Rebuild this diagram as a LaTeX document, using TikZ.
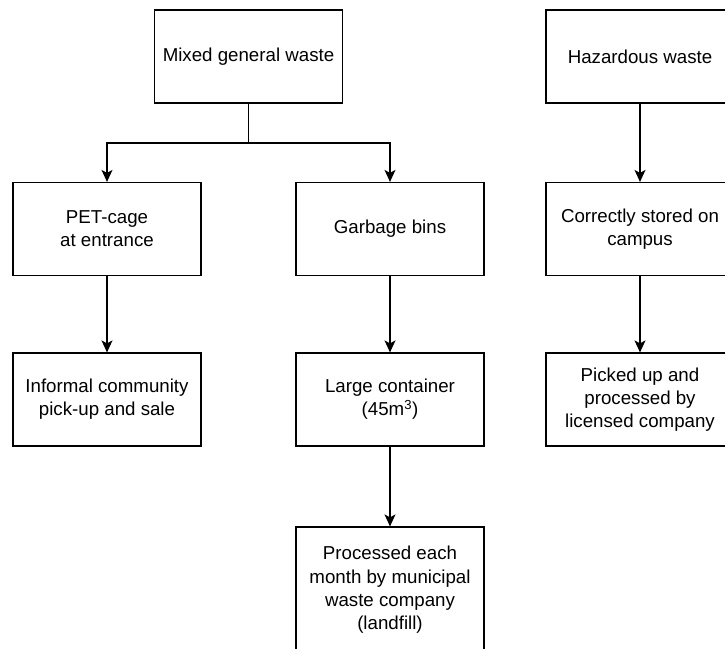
\documentclass[tikz,border=0pt]{standalone}
\usepackage{fontspec}
\setmainfont{Liberation Sans}
\usetikzlibrary{arrows.meta}
\tikzset{
  x=1pt,
  y=-1pt,
  wastebox/.style={
    draw,
    line width=1.2pt,
    rectangle,
    minimum width=188pt,
    minimum height=93pt,
    align=center,
    inner sep=2pt,
    font=\fontsize{18.7}{23.3}\selectfont
  },
  flow/.style={
    draw,
    line width=1.2pt,
    -{Stealth[length=12pt,width=11pt,inset=3pt]}
  }
}

\begin{document}
\begin{tikzpicture}
  \useasboundingbox (0,0) rectangle (725,648);
  \clip (0,0) rectangle (725,648);
  % sources
  \node[wastebox] (mixed) at (248.5,56.5) {Mixed general waste};
  \node[wastebox] (hazard) at (640,56.5) {Hazardous waste};
  % first stage
  \node[wastebox] (pet) at (107,229) {PET-cage\\at entrance};
  \node[wastebox] (bins) at (390,229) {Garbage bins};
  \node[wastebox] (stored) at (640,229) {Correctly stored on\\campus};
  % second stage
  \node[wastebox] (informal) at (107,399.5) {Informal community\\pick-up and sale};
  \node[wastebox] (container) at (390,399.5) {Large container\\(45m\textsuperscript{3})};
  \node[wastebox] (licensed) at (640,399.5) {Picked up and\\processed by\\licensed company};
  % final stage
  \node[wastebox, minimum height=126pt] (landfill) at (390,590) {Processed each\\month by municipal\\waste company\\(landfill)};
  \coordinate (split) at (248.5,143);
  \draw[line width=1.2pt] (mixed.south) -- (split);
  \draw[flow] (split) -| (pet.north);
  \draw[flow] (split) -| (bins.north);
  \draw[flow] (pet) -- (informal);
  \draw[flow] (bins) -- (container);
  \draw[flow] (container) -- (landfill);
  \draw[flow] (hazard) -- (stored);
  \draw[flow] (stored) -- (licensed);
\end{tikzpicture}
\end{document}
